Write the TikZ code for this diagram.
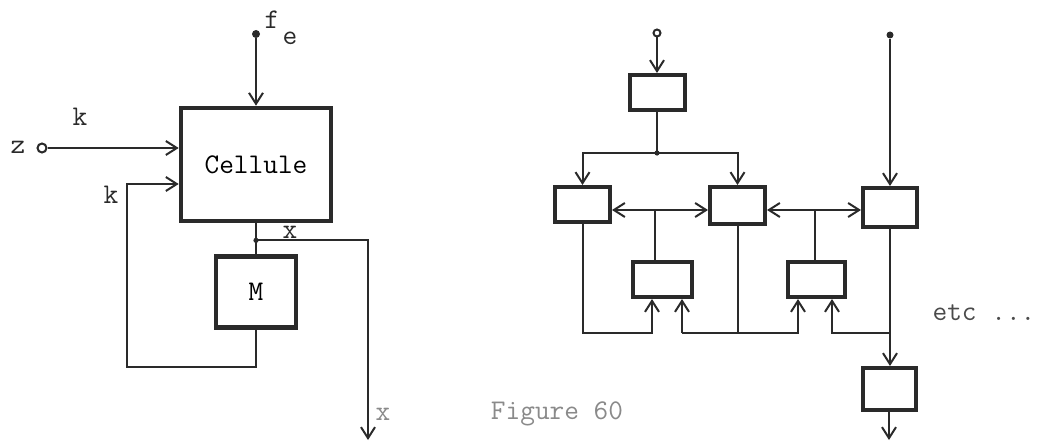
\documentclass[tikz,border=0pt]{standalone}
\usepackage{fontspec}
\usetikzlibrary{arrows.meta, positioning, calc}
\definecolor{inkdark}{HTML}{2A2A2A}
\definecolor{inkfaint}{HTML}{8A8A8A}
\newcommand{\typefont}{\ttfamily\fontsize{28.5}{32}\selectfont}
\tikzset{
  % Boxes
  bigbox/.style={
    rectangle, draw=inkdark, line width=4.6pt, inner sep=0pt,
  },
  smallbox/.style={
    rectangle, draw=inkdark, line width=4pt, inner sep=0pt,
  },
  % Terminals
  dotterm/.style={circle, fill=inkdark, inner sep=0pt, minimum size=7pt},
  ringterm/.style={circle, draw=inkdark, fill=white, line width=2pt, inner sep=0pt, minimum size=#1},
  ringterm/.default={9pt},
  % Arrows
  myarrow/.style={-{Straight Barb[length=11pt, width=14pt]}, line width=2pt, inkdark},
  biarrow/.style={{Straight Barb[length=11pt, width=14pt]}-{Straight Barb[length=11pt, width=14pt]}, line width=2pt, inkdark},
  wire/.style={line width=2pt, inkdark},
  % Labels
  lbl/.style={font=\typefont, text=inkdark, inner sep=0pt},
  faintlbl/.style={font=\typefont, text=inkfaint, inner sep=0pt},
}

\begin{document}
\begin{tikzpicture}[x=1pt, y=-1pt]
  \useasboundingbox (0,0) rectangle (1041,444);

  % Left: cell with memory
  \node[bigbox, minimum width=150pt, minimum height=113pt, font=\typefont] (cell) at (256,164.5) {Cellule};
  \node[bigbox, minimum width=80pt, minimum height=71pt, font=\typefont, below=31pt of cell] (mem) {M};

  \node[dotterm, minimum size=8pt] (fe) at (256,34) {};
  \node[ringterm] (zin) at (42,148) {};

  \node[lbl] (flbl) at (272,20) {f};
  \node[lbl] (elbl) at (290,38) {e};
  \node[lbl] (zlbl) at (18,147) {z};
  \node[lbl] (klbl) at (80,117) {k};
  \node[lbl] (kfb) at (111,195) {k};
  \node[lbl] (xlbl) at (290,232) {x};
  \node[faintlbl] (xout lbl) at (383,414) {x};

  \coordinate (split x) at ($(cell.south)!0.55!(mem.north)$);
  \coordinate (xout) at (368,440);
  \coordinate (fb) at (127,367);
  \coordinate (fb in) at ([yshift=-19.5pt]cell.west);

  \draw[myarrow] (fe) -- (cell);
  \draw[myarrow] (zin) -- (zin -| cell.west);
  \draw[wire] (cell) -- (mem);
  \fill[inkdark] (split x) circle (2.6pt);
  \draw[myarrow] (split x) -| (xout);
  \draw[myarrow] (mem.south) |- (fb) |- (fb in);

  % Right: network of cells
  \node[dotterm] (in2) at (890,35) {};
  \node[ringterm=7pt] (in1) at (657,33) {};

  \node[smallbox, minimum width=55pt, minimum height=35pt] (top) at (657,92.5) {};
  \node[smallbox, minimum width=55pt, minimum height=35pt] (bl) at (582.5,204.5) {};
  \node[smallbox, minimum width=55pt, minimum height=37pt] (br) at (737.5,205.5) {};
  \node[smallbox, minimum width=54pt, minimum height=39pt] (cr) at (890,207.5) {};
  \node[smallbox, minimum width=59pt, minimum height=35pt] (dl) at (662.5,279.5) {};
  \node[smallbox, minimum width=57pt, minimum height=35pt] (dr) at (816.5,279.5) {};
  \node[smallbox, minimum width=53pt, minimum height=42pt] (out) at (889,389) {};

  \node[lbl, text=inkdark!85] (etc) at (984,313) {etc ...};
  \node[faintlbl] (caption) at (557,414) {Figure 60};

  \coordinate (split) at (657,153);
  \coordinate (tapl) at (655,210);
  \coordinate (tapr) at (815,210);
  \coordinate (bus) at (0,333);
  \coordinate (d1) at ([xshift=-10.5pt]dl.south);
  \coordinate (d2) at ([xshift=19.5pt]dl.south);
  \coordinate (e1) at ([xshift=-18.5pt]dr.south);
  \coordinate (e2) at ([xshift=15.5pt]dr.south);
  \coordinate (end) at (889,440);

  \draw[myarrow] (in1) -- (top);
  \draw[wire] (top) -- (split);
  \fill[inkdark] (split) circle (2.6pt);
  \draw[myarrow] (split) -| (bl);
  \draw[myarrow] (split) -| (br);
  \draw[myarrow] (in2) -- (in2 |- cr.north);

  \draw[biarrow] (tapl -| bl.east) -- (tapl -| br.west);
  \draw[wire] (tapl) -- (tapl |- dl.north);
  \draw[biarrow] (tapr -| br.east) -- (tapr -| cr.west);
  \draw[wire] (tapr) -- (tapr |- dr.north);

  \draw[myarrow] (bl.south) |- (d1 |- bus) -- (d1);
  \draw[myarrow] (d2 |- bus) -- (d2);
  \draw[myarrow] (d2 |- bus) -| (e1);
  \draw[wire] (br.south) -- (br.south |- bus);
  \draw[myarrow] (cr.south |- bus) -| (e2);
  \draw[myarrow] (cr.south) -- (cr.south |- out.north);
  \draw[myarrow] (out) -- (end);

\end{tikzpicture}
\end{document}
